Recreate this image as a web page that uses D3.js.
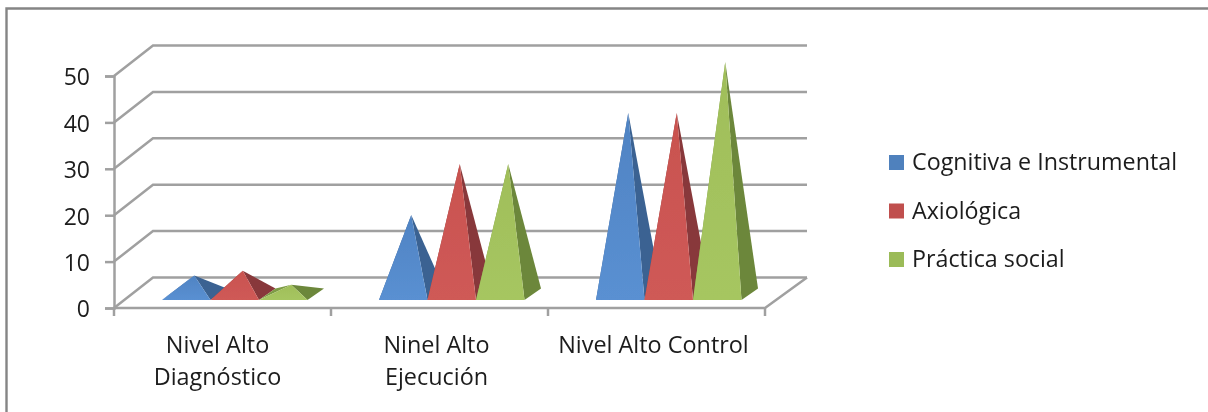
<!DOCTYPE html>
<html><head><meta charset="utf-8">
<script src="https://cdn.jsdelivr.net/npm/d3@7"></script>
<style>html,body{margin:0;padding:0;background:#fff;overflow:hidden}svg{display:block}</style>
</head><body><div id="c"></div>
<script>
const categories = [["Nivel Alto","Diagnóstico"],["Ninel Alto","Ejecución"],["Nivel Alto Control"]];
const seriesNames = ["Cognitiva e Instrumental","Axiológica","Práctica social"];
const cognitiva = [4,17,39];
const axiologica = [5,28,39];
const practica = [2,28,50];
const yTicks = [0,10,20,30,40,50];
const frontColors = ["#4f83c3","#c9524f","#a0be59"];
const bottomColors = ["#5a90d2","#cf5a57","#a6c661"];
const sideColors = ["#3a6292","#88393a","#6c873a"];
const leftColors = ["#40689b","#93403f","#7d9c44"];
const legendColors = ["#4f81bd","#c0504d","#9bbb59"];
const seriesValues = [cognitiva,axiologica,practica];

const W=1208,H=412, dx=39, dy=-30.5, depthX=16.5, depthY=-11.5;
const font='"Open Sans","Noto Sans",sans-serif', grey="#a0a0a0";
const svg=d3.select("#c").append("svg").attr("width",W).attr("height",H);
const defs=svg.append("defs");
defs.append("filter").attr("id","soft").append("feGaussianBlur").attr("stdDeviation",0.5);
seriesValues.forEach((_,i)=>{
  const g=defs.append("linearGradient").attr("id","g"+i).attr("x1",0).attr("x2",0).attr("y1",0).attr("y2",1);
  g.append("stop").attr("offset","0%").attr("stop-color",frontColors[i]);
  g.append("stop").attr("offset","100%").attr("stop-color",bottomColors[i]);
});
const root=svg.append("g").attr("filter","url(#soft)");

const y=d3.scaleLinear().domain([0,50]).range([308,76]);
const x=d3.scaleBand().domain(categories.map((_,i)=>i)).range([114,765]);
const inner=d3.scaleBand().domain(seriesNames.map((_,i)=>i)).range([48,193.5]);

// frame
root.append("path").attr("d",`M6.5,${H+5}V8.5H${W+5}`).attr("fill","none").attr("stroke","#858585").attr("stroke-width",2.4);

// gridlines on wall and side
const line=d3.line();
const axisStyle=s=>s.attr("fill","none").attr("stroke",grey).attr("stroke-width",2.5);
root.append("g").selectAll("path").data(yTicks).join("path")
  .attr("d",v=>line([[x.range()[0],y(v)],[x.range()[0]+dx,y(v)+dy],[x.range()[1]+dx+3,y(v)+dy]]))
  .call(axisStyle);
// floor front edge
root.append("path").attr("d",line([[x.range()[0],y(0)],[x.range()[1],y(0)],[x.range()[1]+dx+3,y(0)+dy]])).call(axisStyle);

// left axis
const ay=root.append("g").attr("transform",`translate(${x.range()[0]},0)`)
  .call(d3.axisLeft(y).tickValues(yTicks).tickSize(9).tickPadding(15));
ay.selectAll("path,line").attr("stroke",grey).attr("stroke-width",2.5);
ay.selectAll("text").attr("font-family",font).attr("font-size",23).attr("fill","#1c1c1c").attr("transform","translate(0,1.5)");

// bottom ticks
const edges=categories.map((_,i)=>x(i)).concat([x.range()[1]]);
root.append("g").selectAll("line").data(edges).join("line")
  .attr("x1",d=>d).attr("x2",d=>d).attr("y1",y(0)).attr("y2",y(0)+8).call(axisStyle);

// category labels
root.append("g").selectAll("text").data(categories).join("text")
  .attr("font-family",font).attr("font-size",23.4).attr("fill","#1c1c1c").attr("text-anchor","middle")
  .each(function(lines,i){
    d3.select(this).selectAll("tspan").data(lines).join("tspan")
      .attr("x",x(i)+x.bandwidth()/2-(i===0?5:3)).attr("y",(_,k)=>352.5+k*32.5).text(d=>d);
  });

// pyramids
const baseFront=y(0)-8, apexLift=14;
categories.forEach((_,c)=>{
  seriesValues.forEach((vals,s)=>{
    const l=x(c)+inner(s), r=l+inner.bandwidth();
    const ax=(l+r)/2+8, ayy=y(vals[c])-apexLift;
    const g=root.append("g");
    g.append("path").attr("d",line([[l,baseFront],[l+depthX,baseFront+depthY],[ax,ayy]])+"Z").attr("fill",leftColors[s]);
    g.append("path").attr("d",line([[r,baseFront],[r+depthX,baseFront+depthY],[ax,ayy]])+"Z").attr("fill",sideColors[s]);
    g.append("path").attr("d",line([[l,baseFront],[r,baseFront],[ax,ayy]])+"Z").attr("fill",`url(#g${s})`);
  });
});

// legend
const ly=d3.scalePoint().domain(seriesNames).range([162.5,259.5]);
const lg=root.append("g").selectAll("g").data(seriesNames).join("g")
  .attr("transform",d=>`translate(889,${ly(d)})`);
lg.append("rect").attr("y",-7.5).attr("width",15).attr("height",15).attr("fill",(_,i)=>legendColors[i]);
lg.append("text").attr("x",23).attr("y",7.5).attr("font-family",font).attr("font-size",23.25).attr("fill","#1c1c1c").text(d=>d);
</script></body></html>
